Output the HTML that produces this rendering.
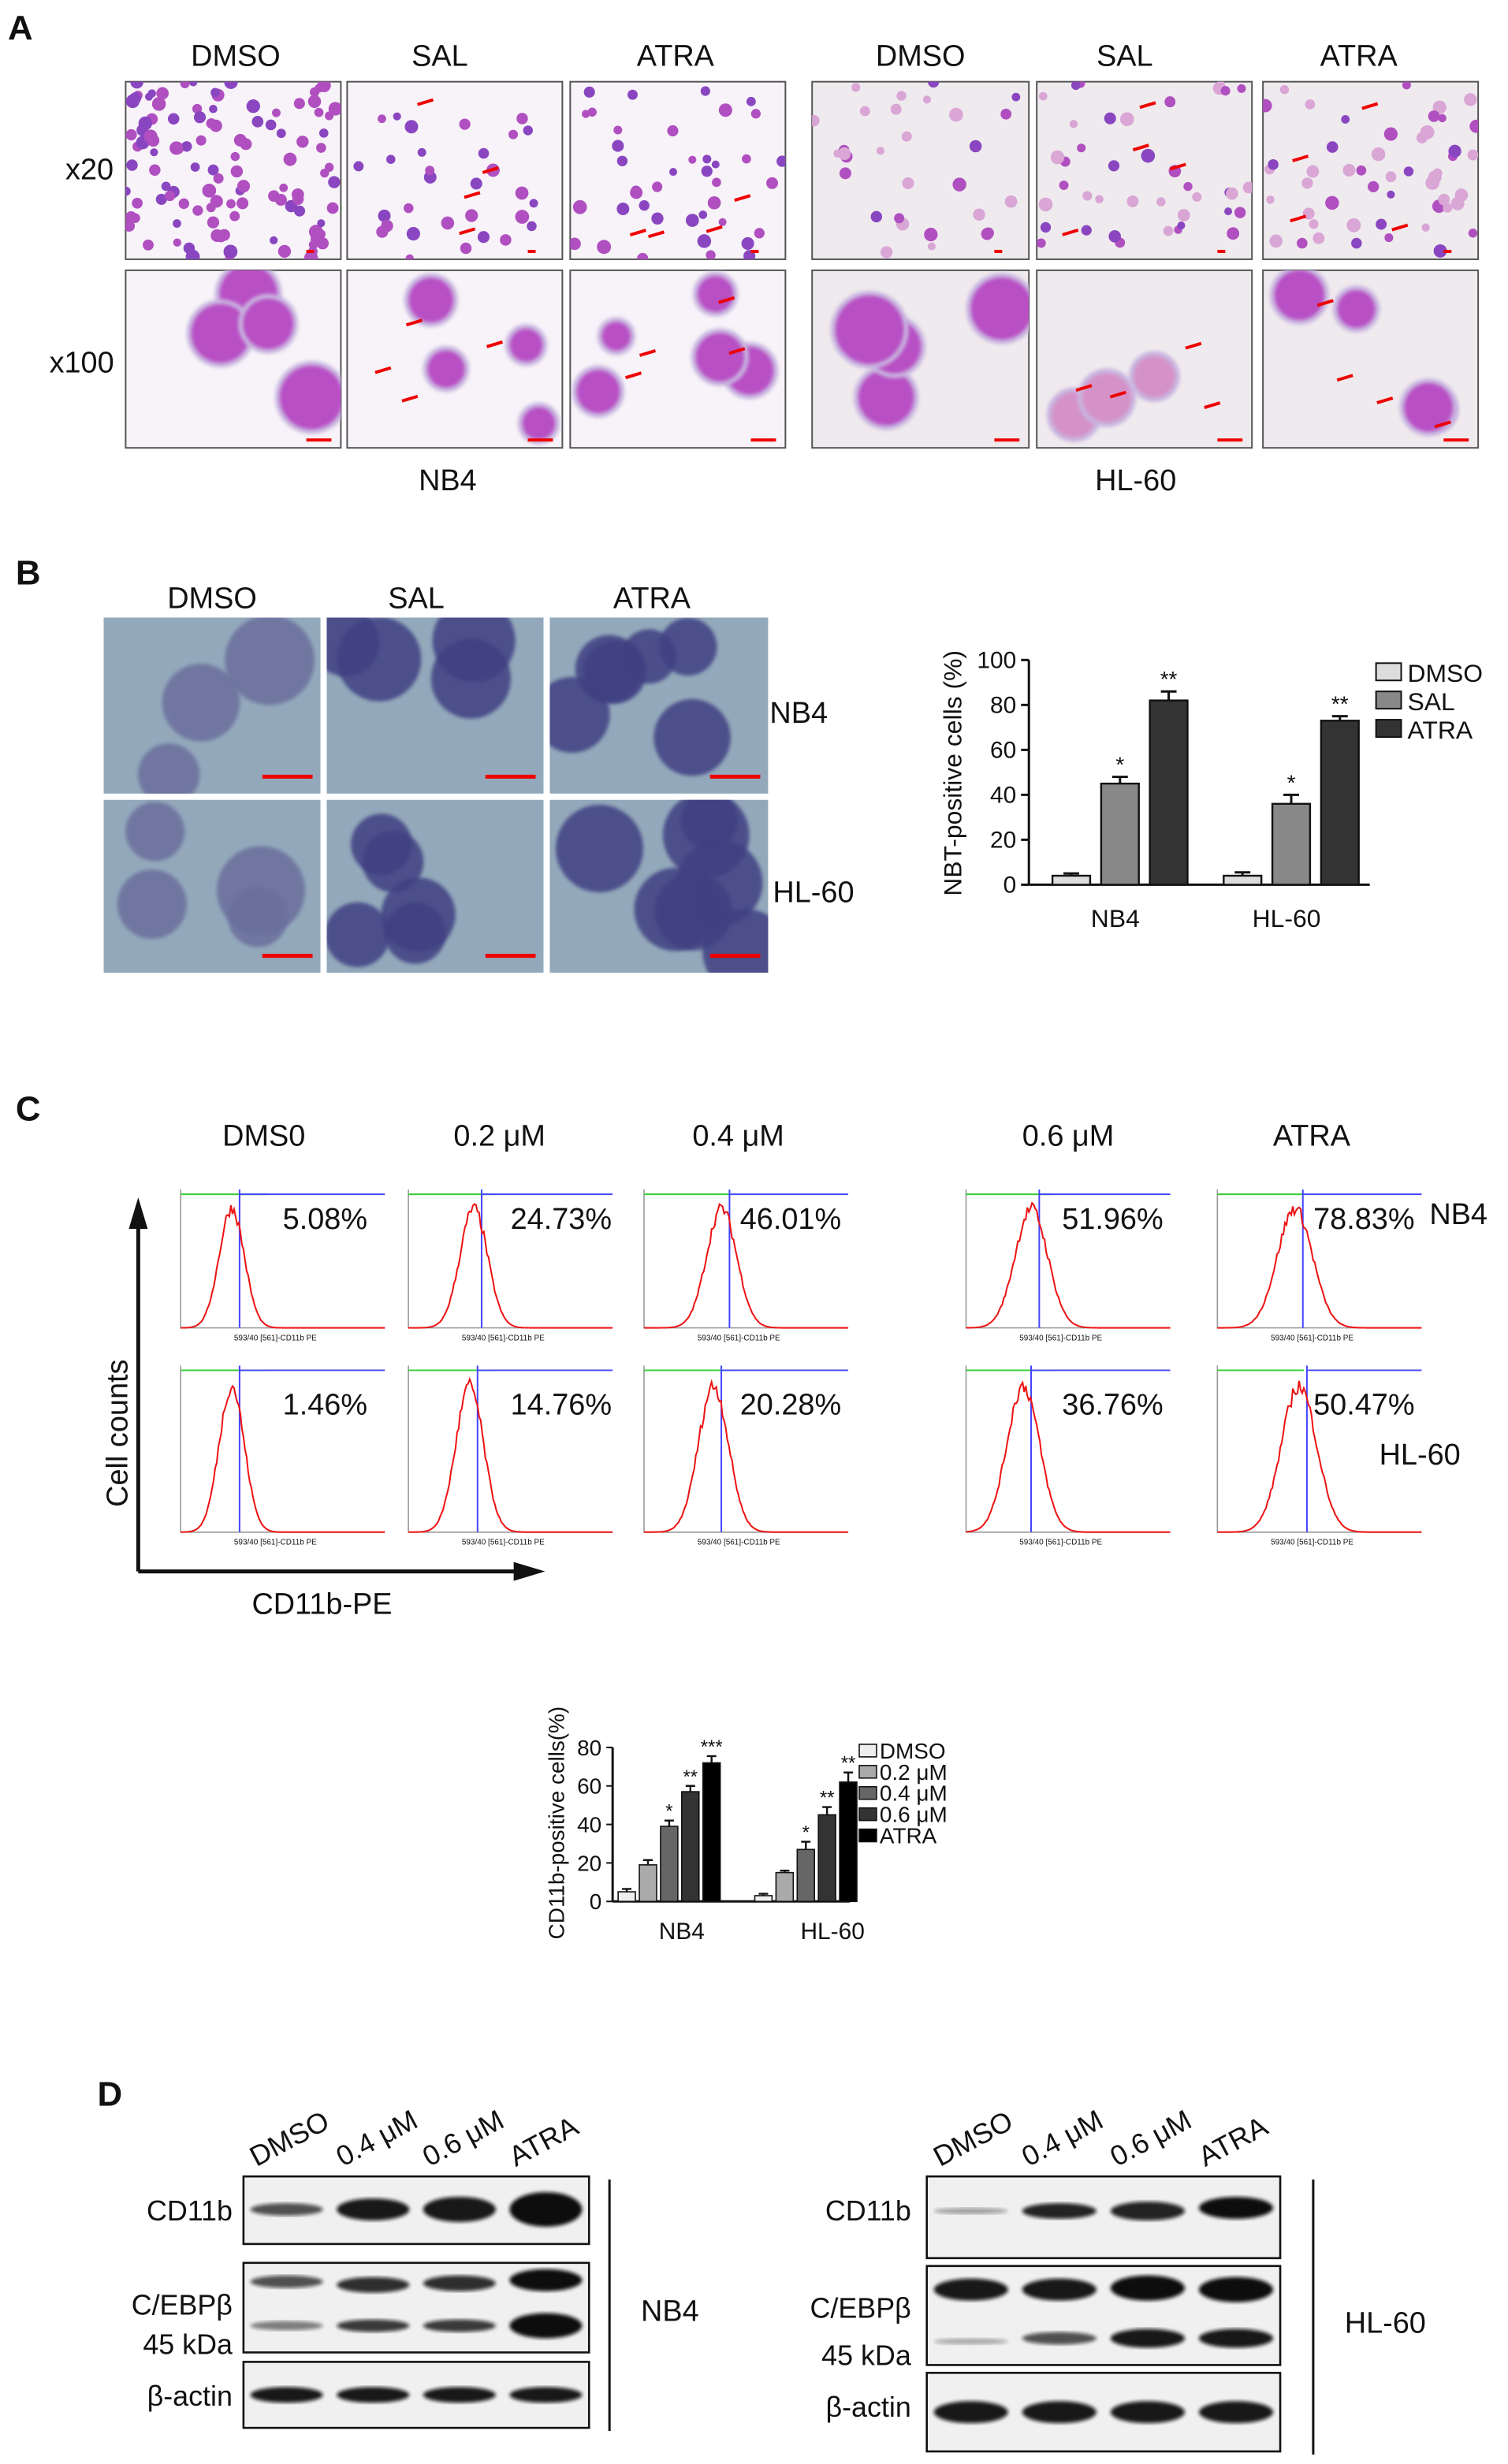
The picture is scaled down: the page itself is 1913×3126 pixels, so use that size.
<!DOCTYPE html>
<html><head><meta charset="utf-8"><style>
html,body{margin:0;padding:0;background:#fff}
svg{display:block}
text{font-family:"Liberation Sans",Arial,sans-serif;fill:#111}
</style></head><body>
<svg id="fig" width="1913" height="3126" viewBox="0 0 960 1568" preserveAspectRatio="none" xmlns="http://www.w3.org/2000/svg">
<defs>
<filter id="blur1"><feGaussianBlur stdDeviation="1.2"/></filter>
<filter id="blur3"><feGaussianBlur stdDeviation="3"/></filter>
</defs>
<g id="panelA">
<text x="5" y="25" font-size="22" font-weight="bold">A</text>
<g font-size="19" text-anchor="middle">
<text x="150" y="42">DMSO</text>
<text x="280" y="42">SAL</text>
<text x="430" y="42">ATRA</text>
<text x="586" y="42">DMSO</text>
<text x="716" y="42">SAL</text>
<text x="865" y="42">ATRA</text>
<text x="57" y="114">x20</text>
<text x="52" y="237">x100</text>
<text x="285" y="312">NB4</text>
<text x="723" y="312">HL-60</text>
</g>
</g>
<g id="panelB">
<text x="10" y="372" font-size="22" font-weight="bold">B</text>
<g font-size="19" text-anchor="middle">
<text x="135" y="387">DMSO</text>
<text x="265" y="387">SAL</text>
<text x="415" y="387">ATRA</text>
</g>
<text x="490" y="460" font-size="19">NB4</text>
<text x="492" y="574" font-size="19">HL-60</text>
</g>
<g id="chartB"></g>
<g id="panelC">
<text x="10" y="713" font-size="22" font-weight="bold">C</text>
<g font-size="19" text-anchor="middle">
<text x="168" y="729">DMS0</text>
<text x="318" y="729">0.2 μM</text>
<text x="470" y="729">0.4 μM</text>
<text x="680" y="729">0.6 μM</text>
<text x="835" y="729">ATRA</text>
</g>
<text x="910" y="779" font-size="19">NB4</text>
<text x="878" y="932" font-size="19">HL-60</text>
<line x1="88" y1="1000" x2="88" y2="772" stroke="#111" stroke-width="2.5"/>
<polygon points="88,762 82,782 94,782" fill="#111"/>
<line x1="88" y1="1000" x2="335" y2="1000" stroke="#111" stroke-width="2.5"/>
<polygon points="347,1000 327,994 327,1006" fill="#111"/>
<text transform="translate(81,912) rotate(-90)" font-size="19" text-anchor="middle">Cell counts</text>
<text x="205" y="1027" font-size="19" text-anchor="middle">CD11b-PE</text>
</g>
<g id="chartC"></g>
<g id="panelD">
<text x="62" y="1340" font-size="22" font-weight="bold">D</text>
</g>
</svg>
<script>
const NS="http://www.w3.org/2000/svg";
const svg=document.getElementById('fig');
function mk(tag,attrs,parent){const e=document.createElementNS(NS,tag);for(const k in attrs)e.setAttribute(k,attrs[k]);(parent||svg).appendChild(e);return e;}
let seed=7;function rnd(){seed=(seed*16807)%2147483647;return seed/2147483647;}

/* Panel A micrographs */
const aCols=[[80,217],[221,358],[363,500],[517,655],[660,797],[804,941]];
const aRows=[[52,165],[172,285]];
const pA=document.getElementById('panelA');
aRows.forEach((r,ri)=>aCols.forEach((c,ci)=>{
  const g=mk('g',{},pA);
  
  
  const bg=ci>=3?'#efeaee':'#f7f3f8';
  mk('rect',{x:c[0],y:r[0],width:c[1]-c[0],height:r[1]-r[0],fill:bg,stroke:'#555','stroke-width':1},g);
  const cp=mk('clipPath',{id:'ca'+ri+ci},g);
  mk('rect',{x:c[0],y:r[0],width:c[1]-c[0],height:r[1]-r[0]},cp);
  const cg=mk('g',{'clip-path':'url(#ca'+ri+ci+')'},g);
  if(ri===0){
    const n=[110,30,40,30,40,50][ci];
    for(let i=0;i<n;i++){const col=ci>=3&&rnd()<0.5?'#d9a6d6':(rnd()<0.5?'#8a46c0':'#b04fc0');
      mk('circle',{cx:c[0]+rnd()*(c[1]-c[0]),cy:r[0]+rnd()*(r[1]-r[0]),r:2.5+rnd()*2,fill:col},cg);}
  } else {
    const n=[4,4,5,4,3,4][ci];
    for(let i=0;i<n;i++){const x=c[0]+15+rnd()*(c[1]-c[0]-30),y=r[0]+15+rnd()*(r[1]-r[0]-30),rr=ci===0||ci===3?16+rnd()*6:9+rnd()*7;
      mk('circle',{cx:x,cy:y,r:rr+3,fill:'#c9b6e0',filter:'url(#blur1)'},cg);
      mk('circle',{cx:x,cy:y,r:rr,fill:ci===4?'#d592c8':'#b84fc4',filter:'url(#blur1)'},cg);}
  }
  mk('rect',{x:c[1]-22,y:r[1]-6,width:ri?16:5,height:2,fill:'#e00'},g);
  if(ci!==0&&ci!==3){for(let i=0;i<4;i++){const x=c[0]+15+rnd()*(c[1]-c[0]-40),y=r[0]+12+rnd()*(r[1]-r[0]-24);
    mk('path',{d:`M${x} ${y}l10 -3`,stroke:'#e00','stroke-width':2},g);}}
}));

/* Panel B images */
const pB=document.getElementById('panelB');
const bCols=[[66,204],[208,346],[350,489]],bRows=[[393,505],[509,619]];
bRows.forEach((r,ri)=>bCols.forEach((c,ci)=>{
  const g=mk('g',{},pB);
  
  
  mk('rect',{x:c[0],y:r[0],width:c[1]-c[0],height:r[1]-r[0],fill:'#93a9bb'},g);
  const cp=mk('clipPath',{id:'cb'+ri+ci},g);
  mk('rect',{x:c[0],y:r[0],width:c[1]-c[0],height:r[1]-r[0]},cp);
  const cg=mk('g',{'clip-path':'url(#cb'+ri+ci+')'},g);
  const n=[3,4,6][ci]+ri;
  for(let i=0;i<n;i++){mk('circle',{cx:c[0]+10+rnd()*(c[1]-c[0]-20),cy:r[0]+10+rnd()*(r[1]-r[0]-20),r:17+rnd()*12,fill:ci===0?'#6a6e9c':'#3f3f82',opacity:0.85,filter:'url(#blur1)'},cg);}
  mk('rect',{x:c[1]-37,y:r[1]-12,width:32,height:2.5,fill:'#e00'},g);
}));

/* Bar chart B */
const bCats=['NB4','HL-60'];
const bSeries=['DMSO','SAL','ATRA'];
const bDMSO=[4,4];
const bSAL=[45,36];
const bATRA=[82,73];
const bErr=[[1,1.5],[3,4],[4,2]];
const bStars=[['','*','**'],['','*','**']];
const bTicks=[0,20,40,60,80,100];
(function(){
  const g=document.getElementById('chartB');
  const y0=563,y1=420,x0=655;
  const Y=v=>y0-(v/100)*(y0-y1);
  const fills=['#dddddd','#888888','#333333'];
  const vals=[bDMSO,bSAL,bATRA];
  const groupX=[713,822],bw=24,step=31;
  mk('line',{x1:x0,y1:y1,x2:x0,y2:y0,stroke:'#111','stroke-width':1.5},g);
  mk('line',{x1:x0,y1:y0,x2:872,y2:y0,stroke:'#111','stroke-width':1.5},g);
  bTicks.forEach(t=>{mk('line',{x1:x0-5,y1:Y(t),x2:x0,y2:Y(t),stroke:'#111','stroke-width':1.5},g);
    const tx=mk('text',{x:x0-8,y:Y(t)+5,'font-size':15,'text-anchor':'end'},g);tx.textContent=t;
    });
  bCats.forEach((cat,ci)=>{
    vals.forEach((arr,si)=>{const cx=groupX[ci]+(si-1)*step,v=arr[ci],e=bErr[si][ci];
      const r=mk('rect',{x:cx-bw/2,y:Y(v),width:bw,height:y0-Y(v),fill:fills[si],stroke:'#111','stroke-width':1.2},g);
      
      mk('path',{d:`M${cx} ${Y(v)}V${Y(v+e)}M${cx-5} ${Y(v+e)}H${cx+5}`,stroke:'#111','stroke-width':1.5,fill:'none'},g);
      if(bStars[ci][si]){const s=mk('text',{x:cx,y:Y(v+e)-3,'font-size':14,'text-anchor':'middle'},g);s.textContent=bStars[ci][si];
        }
    });
    const t=mk('text',{x:groupX[ci]-3,y:590,'font-size':16,'text-anchor':'middle'},g);t.textContent=cat;
    
  });
  const yl=mk('text',{transform:'translate(612,492) rotate(-90)','font-size':16,'text-anchor':'middle'},g);yl.textContent='NBT-positive cells (%)';
  
  bSeries.forEach((s,i)=>{const le=mk('g',{},g);
    mk('rect',{x:876,y:422+i*18,width:16,height:11,fill:fills[i],stroke:'#111'},le);
    const t=mk('text',{x:896,y:434+i*18,'font-size':16},le);t.textContent=s;});
})();

/* Panel C histograms */
const pC=document.getElementById('panelC');
const cCols=[115,260,410,615,775],cw=130;
const cPcts=[['5.08%','24.73%','46.01%','51.96%','78.83%'],['1.46%','14.76%','20.28%','36.76%','50.47%']];
const peakPos=[[0.25,0.32,0.38,0.32,0.38],[0.25,0.3,0.34,0.28,0.4]];
[[747,855],[859,985]].forEach((r,ri)=>cCols.forEach((cx,ci)=>{
  const g=mk('g',{},pC);
  const top=r[0]+10,bot=r[1]-10;
  mk('path',{d:`M${cx} ${top}V${bot}H${cx+cw}`,stroke:'#999','stroke-width':0.8,fill:'none'},g);
  mk('line',{x1:cx,y1:top+3,x2:cx+cw/2-10,y2:top+3,stroke:'#3c3','stroke-width':1},g);
  const p3=cx+cw*peakPos[ri][ci]+5;
  mk('line',{x1:p3,y1:top+3,x2:cx+cw,y2:top+3,stroke:'#44f','stroke-width':1},g);
  mk('line',{x1:p3,y1:top,x2:p3,y2:bot,stroke:'#44f','stroke-width':1},g);
  let d='',pk=cx+cw*peakPos[ri][ci],sd=8+ci*0.8;
  for(let x=0;x<=cw;x+=1){const xx=cx+x,h=Math.exp(-Math.pow(xx-pk,2)/(2*sd*sd))*(bot-top-8)*(0.9+0.1*rnd());d+=(x?'L':'M')+xx+' '+(bot-h);}
  mk('path',{d:d,stroke:'#e11','stroke-width':1,fill:'none'},g);
  const a=mk('text',{x:cx+cw*0.3-5,y:bot+8,'font-size':5,fill:'#333'},g);a.textContent='593/40 [561]-CD11b PE';
  const t=mk('text',{x:cx+(ci<2?cw*0.5:cw*0.47),y:r[0]+(ri?41:35),'font-size':19},g);t.textContent=cPcts[ri][ci];
}));

/* Bar chart C */
const cCats=['NB4','HL-60'];
const cSeries=['DMSO','0.2 μM','0.4 μM','0.6 μM','ATRA'];
const cNB4=[5,19,39,57,72];
const cHL60=[3,15,27,45,62];
const cErrNB4=[1.5,2.5,3,3,3.5];
const cErrHL60=[1,1,4,4,5];
const cStarsNB4=['','','*','**','***'];
const cStarsHL60=['','','*','**','**'];
const cTicks=[0,20,40,60,80];
(function(){
  const g=document.getElementById('chartC');
  const y0=1210,y1=1112,x0=390;
  const Y=v=>y0-(v/80)*(y0-y1);
  const fills=['#eeeeee','#aaaaaa','#666666','#333333','#000000'];
  const data=[cNB4,cHL60],errs=[cErrNB4,cErrHL60],stars=[cStarsNB4,cStarsHL60];
  const groupX=[426,513],bw=11,step=13.5;
  mk('line',{x1:x0,y1:y1,x2:x0,y2:y0,stroke:'#111','stroke-width':1.5},g);
  mk('line',{x1:x0,y1:y0,x2:541,y2:y0,stroke:'#111','stroke-width':1.5},g);
  cTicks.forEach(t=>{mk('line',{x1:x0-4,y1:Y(t),x2:x0,y2:Y(t),stroke:'#111'},g);
    const tx=mk('text',{x:x0-7,y:Y(t)+5,'font-size':14,'text-anchor':'end'},g);tx.textContent=t;
    });
  cCats.forEach((cat,ci)=>{
    data[ci].forEach((v,si)=>{const cx=groupX[ci]+(si-2)*step,e=errs[ci][si];
      const r=mk('rect',{x:cx-bw/2,y:Y(v),width:bw,height:y0-Y(v),fill:fills[si],stroke:'#111','stroke-width':0.8},g);
      
      mk('path',{d:`M${cx} ${Y(v)}V${Y(v+e)}M${cx-3} ${Y(v+e)}H${cx+3}`,stroke:'#111','stroke-width':1.2,fill:'none'},g);
      if(stars[ci][si]){const s=mk('text',{x:cx,y:Y(v+e)-2,'font-size':12,'text-anchor':'middle'},g);s.textContent=stars[ci][si];}
    });
    const t=mk('text',{x:[434,530][ci],y:1234,'font-size':15,'text-anchor':'middle'},g);t.textContent=cat;
    
  });
  const yl=mk('text',{transform:'translate(359,1160) rotate(-90)','font-size':14,'text-anchor':'middle'},g);yl.textContent='CD11b-positive cells(%)';
  
  cSeries.forEach((s,i)=>{const le=mk('g',{},g);
    mk('rect',{x:547,y:1110+i*13.5,width:11,height:8,fill:fills[i],stroke:'#111','stroke-width':0.8},le);
    const t=mk('text',{x:560,y:1119+i*13.5,'font-size':14},le);t.textContent=s;});
})();

/* Panel D blots */
const pD=document.getElementById('panelD');
function blot(x0,x1,rows,bands,lbls,lblX,sideLabel,lineX){
  const w=x1-x0,lane=w/4;
  ['DMSO','0.4 μM','0.6 μM','ATRA'].forEach((s,i)=>{const t=mk('text',{transform:`translate(${x0+lane*i+lane*0.15},${rows[0][0]-6}) rotate(-28)`,'font-size':18},pD);t.textContent=s;
    });
  rows.forEach((r,ri)=>{
    const g=mk('g',{},pD);
    mk('rect',{x:x0,y:r[0],width:w,height:r[1]-r[0],fill:'#f0f0f0',stroke:'#111','stroke-width':1.3},g);
    bands[ri].forEach(b=>{const [bi,by,bh,op]=b;
      mk('ellipse',{cx:x0+lane*(bi+0.5),cy:r[0]+by,rx:lane*0.42,ry:bh,fill:'#111',opacity:op,filter:'url(#blur1)'},g);});
  });
  lbls.forEach(l=>{const t=mk('text',{x:lblX,y:l[1],'font-size':18,'text-anchor':'end'},pD);t.textContent=l[0];});
  mk('line',{x1:lineX,y1:rows[0][0]+2,x2:lineX,y2:rows[2][1]+2,stroke:'#111','stroke-width':1.5},pD);
  const t=mk('text',{x:lineX+20,y:(rows[0][0]+rows[2][1])/2+12,'font-size':19},pD);t.textContent=sideLabel;
}
blot(155,375,[[1385,1428],[1440,1497],[1503,1545]],
 [[[0,21,4,0.7],[1,21,7,0.95],[2,21,8,0.95],[3,21,11,1]],
  [[0,12,4,0.7],[1,14,5,0.85],[2,13,5,0.85],[3,11,7,1],[0,40,3,0.5],[1,40,4,0.8],[2,40,4,0.8],[3,40,8,1]],
  [[0,21,5,0.95],[1,21,5,0.95],[2,21,5,0.95],[3,21,5,0.95]]],
 [['CD11b',1413],['C/EBPβ',1473],['45 kDa',1498],['β-actin',1531]],148,'NB4',388);
blot(590,815,[[1385,1437],[1442,1505],[1510,1560]],
 [[[0,22,2,0.35],[1,22,5,0.9],[2,22,6,0.9],[3,20,7,1]],
  [[0,15,7,0.95],[1,15,7,0.95],[2,14,8,1],[3,15,8,1],[0,48,2,0.3],[1,46,4,0.7],[2,46,6,0.95],[3,46,6,0.95]],
  [[0,25,7,0.95],[1,25,7,0.95],[2,25,7,0.95],[3,25,7,0.95]]],
 [['CD11b',1413],['C/EBPβ',1475],['45 kDa',1505],['β-actin',1538]],580,'HL-60',836);
</script>
</body></html>
